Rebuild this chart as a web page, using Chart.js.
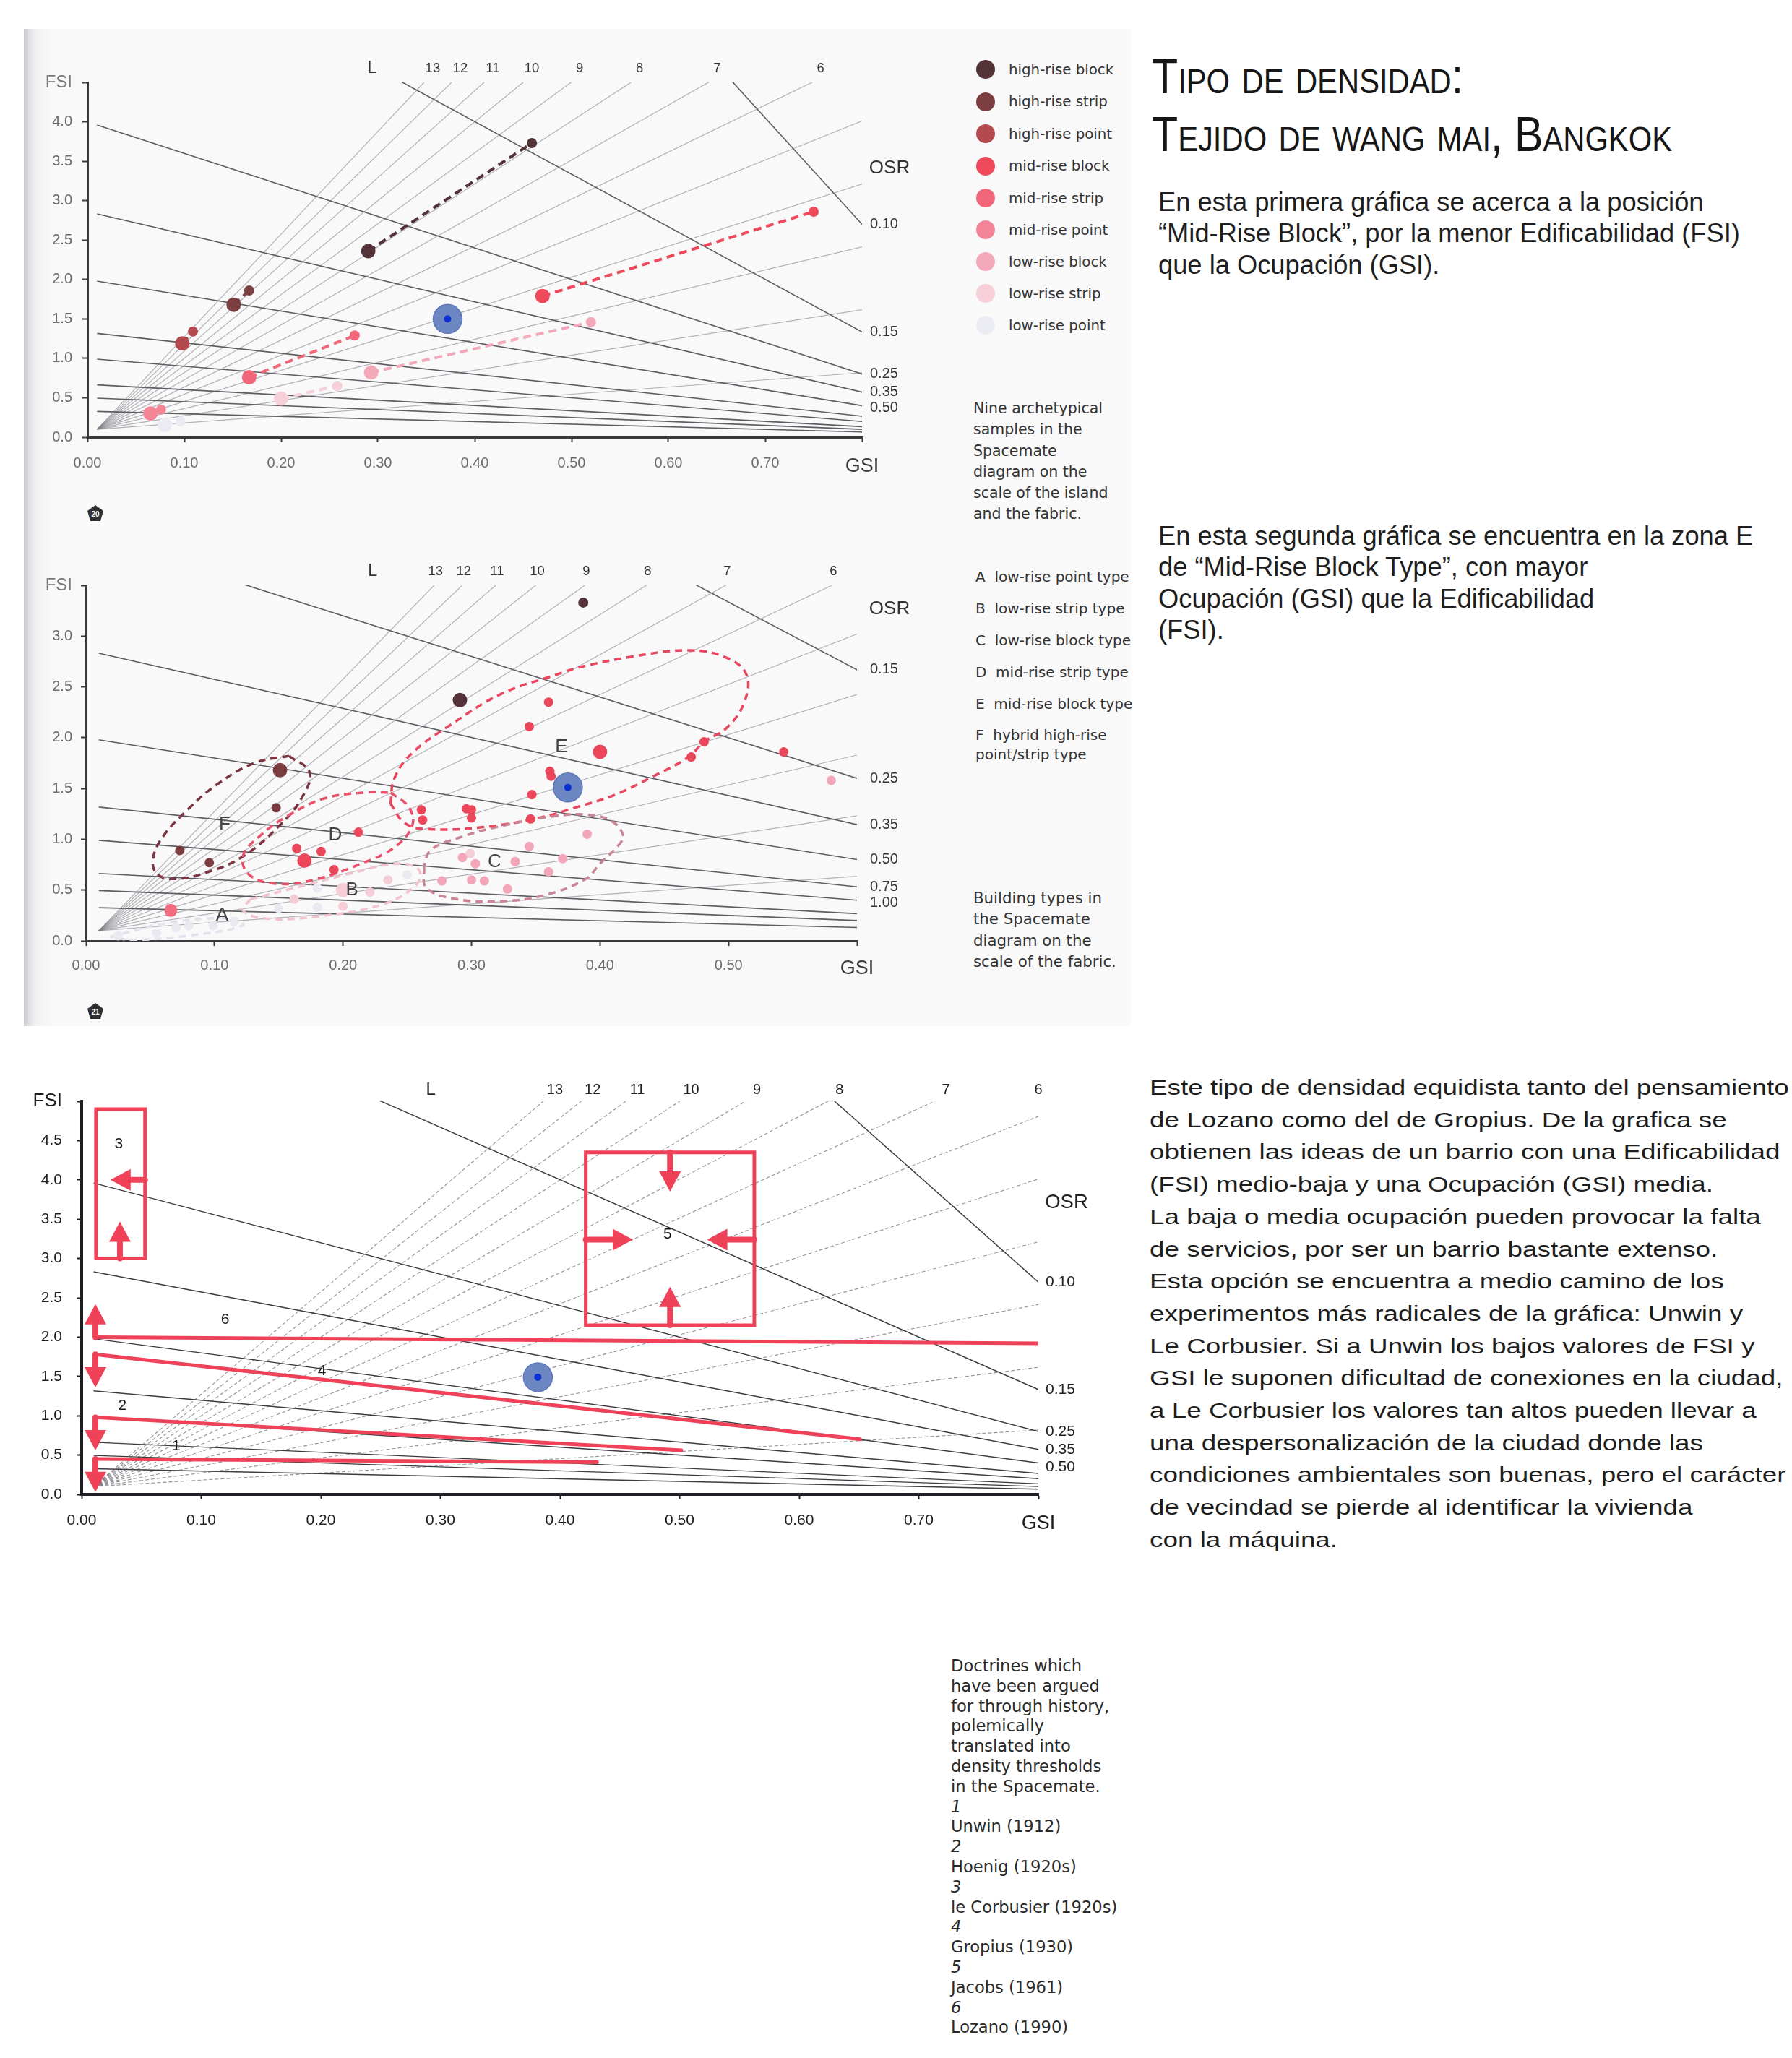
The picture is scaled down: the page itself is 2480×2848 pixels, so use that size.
<!DOCTYPE html>
<html lang="es">
<head>
<meta charset="utf-8">
<title>Tipo de densidad: Tejido de Wang Mai, Bangkok</title>
<script src="https://cdn.jsdelivr.net/npm/chart.js@4.4.1/dist/chart.umd.min.js"></script>
<style>
  html, body { margin: 0; padding: 0; background: #fff; }
  body { position: relative; width: 2480px; height: 2848px; overflow: hidden;
         font-family: 'Liberation Sans', Arial, sans-serif; color: #222; }
  .scan { position: absolute; left: 33px; top: 40px; width: 1532px; height: 1380px;
          background: linear-gradient(to right, #c6c6cc 0px, #dcdce0 6px, #f1f1f3 16px, #f9f9fa 40px); }
  canvas { position: absolute; }
  #c1 { left: 30px; top: 60px; }
  #c2 { left: 30px; top: 760px; }
  #c3 { left: 20px; top: 1470px; }
  .row { position: absolute; display: flex; align-items: center; white-space: pre;
         transform: translateY(-50%); font-family: 'DejaVu Sans', sans-serif; font-size: 19.8px; color: #333; }
  .row.types { font-size: 20px; }
  .dot { width: 26px; height: 26px; border-radius: 50%; margin-right: 19px; }
  .caption { position: absolute; left: 1347px; font-family: 'DejaVu Sans', sans-serif; font-size: 20.5px;
             line-height: 29.3px; color: #333; }
  .title { position: absolute; left: 1594px; top: 65px; font-size: 68px; line-height: 80px;
           font-variant: small-caps; color: #161616; white-space: nowrap;
           transform: scaleX(0.87); transform-origin: left top; }
  .para { position: absolute; left: 1603px; font-size: 36.3px; line-height: 43.3px; color: #1e1e1e; white-space: nowrap; }
  .para3 { position: absolute; left: 1591px; top: 1483px; font-size: 30px; line-height: 44.7px; color: #1e1e1e;
           white-space: nowrap; transform: scaleX(1.228); transform-origin: left top; }
  .doctrines { position: absolute; left: 1316px; top: 2292px; font-family: 'DejaVu Sans', sans-serif;
               font-size: 22.6px; line-height: 27.8px; color: #2a2a2a; }
  .doctrines i { font-style: italic; }
  .badge { position: absolute; }
</style>
</head>
<body>
<div class="scan"></div>
<canvas id="c1" width="1280" height="600"></canvas>
<canvas id="c2" width="1280" height="600"></canvas>
<canvas id="c3" width="1540" height="680"></canvas>

<svg class="badge" style="left:120px;top:698px" width="24" height="24" viewBox="0 0 24 24">
  <polygon points="12,1 23,9 19,23 5,23 1,9" fill="#2e2e33"/>
  <text x="12" y="17" font-size="10" font-weight="bold" fill="#fff" text-anchor="middle" font-family="Liberation Sans, Arial">20</text>
</svg>
<svg class="badge" style="left:120px;top:1387px" width="24" height="24" viewBox="0 0 24 24">
  <polygon points="12,1 23,9 19,23 5,23 1,9" fill="#2e2e33"/>
  <text x="12" y="17" font-size="10" font-weight="bold" fill="#fff" text-anchor="middle" font-family="Liberation Sans, Arial">21</text>
</svg>

<div id="legend1"></div>
<div id="legend2"></div>

<div class="caption" style="top:551px">Nine archetypical<br>samples in the<br>Spacemate<br>diagram on the<br>scale of the island<br>and the fabric.</div>
<div class="caption" style="top:1228px;font-size:21.3px">Building types in<br>the Spacemate<br>diagram on the<br>scale of the fabric.</div>

<div class="title">Tipo de densidad:<br>Tejido de wang mai, Bangkok</div>
<div class="para" style="top:258px">En esta primera gráfica se acerca a la posición<br>“Mid-Rise Block”, por la menor Edificabilidad (FSI)<br>que la Ocupación (GSI).</div>
<div class="para" style="top:720px">En esta segunda gráfica se encuentra en la zona E<br>de “Mid-Rise Block Type”, con mayor<br>Ocupación (GSI) que la Edificabilidad<br>(FSI).</div>
<div class="para3">Este tipo de densidad equidista tanto del pensamiento<br>de Lozano como del de Gropius. De la grafica se<br>obtienen las ideas de un barrio con una Edificabilidad<br>(FSI) medio-baja y una Ocupación (GSI) media.<br>La baja o media ocupación pueden provocar la falta<br>de servicios, por ser un barrio bastante extenso.<br>Esta opción se encuentra a medio camino de los<br>experimentos más radicales de la gráfica: Unwin y<br>Le Corbusier. Si a Unwin los bajos valores de FSI y<br>GSI le suponen dificultad de conexiones en la ciudad,<br>a Le Corbusier los valores tan altos pueden llevar a<br>una despersonalización de la ciudad donde las<br>condiciones ambientales son buenas, pero el carácter<br>de vecindad se pierde al identificar la vivienda<br>con la máquina.</div>
<div class="doctrines">Doctrines which<br>have been argued<br>for through history,<br>polemically<br>translated into<br>density thresholds<br>in the Spacemate.<br><i>1</i><br>Unwin (1912)<br><i>2</i><br>Hoenig (1920s)<br><i>3</i><br>le Corbusier (1920s)<br><i>4</i><br>Gropius (1930)<br><i>5</i><br>Jacobs (1961)<br><i>6</i><br>Lozano (1990)</div>

<script>
const FONT = "'Liberation Sans', Arial, sans-serif";

// ---------- Spacemate grid (shared) ----------
const floorLines = [1, 2, 3, 4, 5, 6, 7, 8, 9, 10, 11, 12, 13];
const fanGsi = 0.01, fanFsi = 0.1;          // where the L fan meets, as drawn
const osrLabels = ['0.10', '0.15', '0.25', '0.35', '0.50', '0.75', '1.00', '1.50', '2.00', '3.00'];
const osrSlopes = [13.5, 6.67, 4.0, 2.86, 2.0, 1.33, 1.0, 0.67, 0.5, 0.33]; // FSI at GSI 0 (as drawn)

// ---------- chart 1: nine archetypes ----------
const archetypes = ['high-rise block', 'high-rise strip', 'high-rise point', 'mid-rise block', 'mid-rise strip',
  'mid-rise point', 'low-rise block', 'low-rise strip', 'low-rise point'];
const archetypeColors = ['#533238', '#7b3e41', '#b44a4f', '#ef4a5c', '#f1677a', '#f38597', '#f3a9ba', '#f6cfd8', '#ebebf4'];
// [island sample, fabric sample]
const archetypeGsi = [[0.290, 0.459], [0.151, 0.167], [0.098, 0.109], [0.470, 0.750], [0.167, 0.276],
  [0.065, 0.076], [0.293, 0.520], [0.200, 0.258], [0.080, 0.096]];
const archetypeFsi = [[2.36, 3.73], [1.68, 1.86], [1.19, 1.34], [1.79, 2.86], [0.76, 1.29],
  [0.30, 0.35], [0.82, 1.46], [0.49, 0.65], [0.155, 0.20]];

// Wang Mai (blue marker) in each chart
const wangMaiGsi = [0.372, 0.375, 0.3815];
const wangMaiFsi = [1.50, 1.51, 1.49];

// ---------- chart 2: building types in the fabric ----------
const fabHighBlockGsi = [0.387, 0.291];
const fabHighBlockFsi = [3.33, 2.37];
const fabHighStripGsi = [0.151, 0.148, 0.073, 0.096];
const fabHighStripFsi = [1.68, 1.31, 0.89, 0.77];
const fabMidBlockGsi = [0.360, 0.345, 0.400, 0.361, 0.362, 0.347, 0.346, 0.261, 0.262, 0.296, 0.300, 0.300,
  0.212, 0.164, 0.170, 0.183, 0.193, 0.481, 0.471, 0.543];
const fabMidBlockFsi = [2.35, 2.11, 1.86, 1.67, 1.62, 1.44, 1.20, 1.29, 1.19, 1.30, 1.29, 1.21,
  1.07, 0.91, 0.79, 0.88, 0.70, 1.96, 1.81, 1.86];
const fabMidPointGsi = [0.066];
const fabMidPointFsi = [0.30];
const fabLowBlockGsi = [0.390, 0.345, 0.371, 0.360, 0.334, 0.328, 0.310, 0.300, 0.303, 0.293, 0.277, 0.580];
const fabLowBlockFsi = [1.05, 0.93, 0.81, 0.68, 0.78, 0.51, 0.59, 0.60, 0.76, 0.82, 0.59, 1.58];
const fabLowStripGsi = [0.235, 0.221, 0.200, 0.200, 0.162, 0.299];
const fabLowStripFsi = [0.60, 0.48, 0.50, 0.34, 0.41, 0.86];
const fabLowPointGsi = [0.250, 0.180, 0.180, 0.150, 0.080, 0.070, 0.055, 0.025, 0.115, 0.099];
const fabLowPointFsi = [0.65, 0.52, 0.33, 0.32, 0.15, 0.13, 0.08, 0.05, 0.19, 0.15];

const typeLetters = ['A', 'B', 'C', 'D', 'E', 'F'];
const typeNames = ['low-rise point type', 'low-rise strip type', 'low-rise block type', 'mid-rise strip type',
  'mid-rise block type', 'hybrid high-rise\npoint/strip type'];
const letterGsi = [0.106, 0.207, 0.318, 0.194, 0.370, 0.108];
const letterFsi = [0.25, 0.50, 0.78, 1.04, 1.91, 1.15];
// dashed zones [gsi, fsi]
const zoneA = [[0.019, 0.04], [0.065, 0.18], [0.116, 0.22], [0.122, 0.15], [0.079, 0.05], [0.036, 0.01], [0.019, 0.04]];
const zoneB = [[0.128, 0.41], [0.165, 0.53], [0.208, 0.67], [0.242, 0.76], [0.259, 0.70], [0.257, 0.55], [0.231, 0.36],
  [0.180, 0.24], [0.139, 0.22], [0.122, 0.30], [0.128, 0.41]];
const zoneC = [[0.263, 0.73], [0.265, 0.52], [0.289, 0.41], [0.323, 0.39], [0.357, 0.45], [0.389, 0.61], [0.400, 0.76],
  [0.415, 0.95], [0.418, 1.04], [0.409, 1.18], [0.391, 1.24], [0.366, 1.23], [0.323, 1.13], [0.289, 1.01],
  [0.268, 0.89], [0.263, 0.73]];
const zoneD = [[0.237, 1.46], [0.251, 1.32], [0.254, 1.14], [0.240, 0.92], [0.214, 0.76], [0.180, 0.61], [0.151, 0.56],
  [0.128, 0.64], [0.122, 0.83], [0.136, 1.04], [0.157, 1.23], [0.185, 1.40], [0.217, 1.46], [0.237, 1.46]];
const zoneE = [[0.237, 1.35], [0.240, 1.60], [0.254, 1.85], [0.283, 2.12], [0.323, 2.43], [0.366, 2.62], [0.383, 2.69],
  [0.426, 2.80], [0.469, 2.86], [0.498, 2.79], [0.514, 2.62], [0.512, 2.34], [0.498, 2.09], [0.481, 1.96],
  [0.469, 1.81], [0.440, 1.61], [0.412, 1.44], [0.383, 1.32], [0.352, 1.21], [0.309, 1.12], [0.265, 1.10],
  [0.248, 1.16], [0.237, 1.35]];
const zoneF = [[0.158, 1.82], [0.174, 1.66], [0.168, 1.41], [0.151, 1.14], [0.122, 0.83], [0.093, 0.67], [0.070, 0.61],
  [0.056, 0.65], [0.052, 0.79], [0.059, 1.01], [0.079, 1.29], [0.102, 1.54], [0.131, 1.75], [0.158, 1.82]];

// ---------- chart 3: doctrines ----------
const unwinGsi = [0.0115, 0.431], unwinFsi = [0.45, 0.41];
const hoenigGsi = [0.0115, 0.5015], hoenigFsi = [0.98, 0.56];
const gropiusGsi = [0.0115, 0.651], gropiusFsi = [1.78, 0.70];
const lozanoGsi = [0.0115, 0.803], lozanoFsi = [2.0, 1.92];
const corbusierGsi = [0.012, 0.053], corbusierFsi = [3.0, 4.9];
const jacobsGsi = [0.4215, 0.5625], jacobsFsi = [2.15, 4.35];
// [from gsi, from fsi, to gsi, to fsi]
const doctrineArrows = [
  [0.053, 4.0, 0.024, 4.0], [0.032, 3.0, 0.032, 3.47],
  [0.492, 4.35, 0.492, 3.85], [0.492, 2.15, 0.492, 2.64], [0.4215, 3.24, 0.461, 3.24], [0.5625, 3.24, 0.523, 3.24],
  [0.0115, 2.0, 0.0115, 2.42], [0.0115, 1.78, 0.0115, 1.36], [0.0115, 0.98, 0.0115, 0.56], [0.0115, 0.45, 0.0115, 0.03]
];
const doctrineNums = ['1', '2', '3', '4', '5', '6'];
const doctrineNumGsi = [0.079, 0.034, 0.031, 0.201, 0.49, 0.12];
const doctrineNumFsi = [0.61, 1.13, 4.46, 1.57, 3.31, 2.22];

// ---------- helpers ----------
Chart.defaults.font.family = FONT;
Chart.defaults.animation = false;
Chart.defaults.events = [];

const pts = (g, f) => g.map((v, i) => ({ x: v, y: f[i] }));
const pairs = arr => arr.map(p => ({ x: p[0], y: p[1] }));
const near = (a, b) => Math.abs(a - b) < 1e-6;

function gridSets(o) {
  const sets = [];
  floorLines.forEach(L => sets.push({
    data: [{ x: fanGsi, y: fanFsi }, { x: 1, y: L }], showLine: true, pointRadius: 0,
    borderColor: o.rayColor, borderWidth: o.rayWidth, borderDash: o.rayDash || [], order: 30
  }));
  osrSlopes.forEach(k => sets.push({
    data: [{ x: 0.01, y: k * 0.99 }, { x: 1, y: 0 }], showLine: true, pointRadius: 0,
    borderColor: o.osrColor, borderWidth: o.osrWidth, order: 29
  }));
  return sets;
}

function axes(o) {
  const mk = (max, step, word, bigSize, fmt, fit, pad, bigColor) => ({
    type: 'linear', min: 0, max: max,
    afterFit: fit,
    border: { display: true, color: o.axisColor, width: o.axisWidth },
    grid: { display: true, drawOnChartArea: false, drawTicks: true, tickLength: 7, tickWidth: 2, color: o.axisColor },
    ticks: {
      stepSize: step, autoSkip: false, maxRotation: 0, padding: pad,
      color: c => (c.tick && near(c.tick.value, max)) ? bigColor : o.tickColor,
      font: c => (c.tick && near(c.tick.value, max)) ? { size: bigSize } : { size: o.tickSize },
      callback: v => near(v, max) ? word : v.toFixed(fmt)
    }
  });
  return {
    x: mk(o.xMax, 0.1, 'GSI', o.gsiSize, 2, s => { s.height = o.xAxisH; }, o.xPad, o.gsiColor),
    y: mk(o.yMax, 0.5, 'FSI', o.fsiSize, 1, s => { s.width = o.yAxisW; }, o.yPad, o.fsiColor)
  };
}

function drawGridLabels(chart, o) {
  const { ctx, chartArea: a, scales: { x, y } } = chart;
  ctx.save();
  ctx.fillStyle = o.labelColor;
  ctx.textBaseline = 'middle';
  ctx.textAlign = 'center';
  ctx.font = `${o.lSize}px ${FONT}`;
  ctx.fillText('L', x.getPixelForValue(o.lGsi), a.top - o.lift);
  ctx.font = `${o.floorSize}px ${FONT}`;
  floorLines.filter(L => L >= 6).forEach(L => {
    const g = fanGsi + (o.yMax - fanFsi) * (1 - fanGsi) / (L - fanFsi);
    const px = Math.min(x.getPixelForValue(g) + o.floorShift, a.right);
    ctx.fillText(String(L), px, a.top - o.lift);
  });
  ctx.font = `${o.osrSize}px ${FONT}`;
  ctx.fillText('OSR', a.right + o.osrDx, y.getPixelForValue(o.osrFsi));
  ctx.textAlign = 'left';
  ctx.font = `${o.osrValSize}px ${FONT}`;
  let prev = -1e9;
  o.osrShown.forEach(lbl => {
    const k = osrSlopes[osrLabels.indexOf(lbl)];
    let py = y.getPixelForValue(k * (1 - o.xMax));
    py = Math.max(py, prev + o.osrGap);
    prev = py;
    ctx.fillText(lbl, a.right + o.osrValDx, py);
  });
  ctx.restore();
}

function wangMaiSets(i) {
  return [
    { data: [{ x: wangMaiGsi[i], y: wangMaiFsi[i] }], pointRadius: 5, pointBackgroundColor: '#0a30d4', pointBorderWidth: 0, order: -6 },
    { data: [{ x: wangMaiGsi[i], y: wangMaiFsi[i] }], pointRadius: 20, pointBackgroundColor: '#6d87c3', pointBorderColor: '#5d78b8', pointBorderWidth: 1.5, order: -5 }
  ];
}

function baseOptions(o, padding) {
  return {
    responsive: false, maintainAspectRatio: false,
    layout: { padding: padding, autoPadding: false },
    scales: axes(o),
    plugins: { legend: { display: false }, tooltip: { enabled: false } }
  };
}

// ---------- chart 1 ----------
const look12 = {
  axisColor: '#3a3a3e', axisWidth: 3, tickColor: '#6c6c70', tickSize: 20, gsiSize: 27, fsiSize: 24,
  gsiColor: '#3c3c40', fsiColor: '#77777c'
};
const grid1 = { xMax: 0.8, yMax: 4.5, lGsi: 0.294, lift: 19, floorShift: 12, lSize: 23, floorSize: 18.5,
  osrSize: 26, osrValSize: 20, osrDx: 38, osrFsi: 3.41, osrValDx: 11, osrGap: 22, labelColor: '#333',
  osrShown: ['0.10', '0.15', '0.25', '0.35', '0.50'] };

const sets1 = gridSets({ rayColor: 'rgba(120,120,128,0.55)', rayWidth: 1.2, osrColor: '#5c5c62', osrWidth: 1.6 });
archetypes.forEach((name, i) => sets1.push({
  label: name, data: pts(archetypeGsi[i], archetypeFsi[i]), showLine: true,
  borderColor: archetypeColors[i], borderWidth: 4, borderDash: [11, 7],
  pointBackgroundColor: archetypeColors[i], pointBorderWidth: 0, pointRadius: [10, 7], order: 0
}));
sets1.push(...wangMaiSets(0));

new Chart(document.getElementById('c1'), {
  type: 'scatter',
  data: { datasets: sets1 },
  options: baseOptions(Object.assign({ xMax: 0.8, yMax: 4.5, xAxisH: 55, yAxisW: 91, xPad: 17, yPad: 14 }, look12),
    { left: 0, top: 54, right: 117, bottom: 0 }),
  plugins: [{ id: 'labels1', afterDatasetsDraw: c => drawGridLabels(c, grid1) }]
});

// ---------- chart 2 ----------
const grid2 = { xMax: 0.6, yMax: 3.5, lGsi: 0.223, lift: 19, floorShift: 2, lSize: 23, floorSize: 18.5,
  osrSize: 26, osrValSize: 20, osrDx: 45, osrFsi: 3.27, osrValDx: 18, osrGap: 22, labelColor: '#333',
  osrShown: ['0.15', '0.25', '0.35', '0.50', '0.75', '1.00'] };

const sets2 = gridSets({ rayColor: 'rgba(120,120,128,0.55)', rayWidth: 1.2, osrColor: '#5c5c62', osrWidth: 1.6 });
const zoneStyle = (zone, color) => ({
  data: pairs(zone), showLine: true, tension: 0.4, pointRadius: 0, borderColor: color, borderWidth: 3.5,
  borderDash: [10, 7], order: 10
});
sets2.push(zoneStyle(zoneA, '#e2e2ec'), zoneStyle(zoneB, '#f2c3cc'), zoneStyle(zoneC, '#c98594'),
  zoneStyle(zoneD, '#e9506a'), zoneStyle(zoneE, '#e9475f'), zoneStyle(zoneF, '#7a3540'));
const dots = (g, f, color, r, big) => ({
  data: pts(g, f), pointBackgroundColor: color, pointBorderWidth: 0,
  pointRadius: g.map((v, i) => (big || []).includes(i) ? 10 : r), order: 0
});
sets2.push(
  dots(fabHighBlockGsi, fabHighBlockFsi, '#55313a', 7, [1]),
  dots(fabHighStripGsi, fabHighStripFsi, '#7b3d40', 6.5, [0]),
  dots(fabMidBlockGsi, fabMidBlockFsi, '#eb4659', 6.5, [2, 14]),
  dots(fabMidPointGsi, fabMidPointFsi, '#f06c7e', 9),
  dots(fabLowBlockGsi, fabLowBlockFsi, '#f2a6b7', 6.5),
  dots(fabLowStripGsi, fabLowStripFsi, '#f5cdd6', 6.5, [2]),
  dots(fabLowPointGsi, fabLowPointFsi, '#e9e9f2', 6.5)
);
sets2.push(...wangMaiSets(1));

new Chart(document.getElementById('c2'), {
  type: 'scatter',
  data: { datasets: sets2 },
  options: baseOptions(Object.assign({ xMax: 0.6, yMax: 3.5, xAxisH: 58, yAxisW: 89, xPad: 15, yPad: 12 }, look12),
    { left: 0, top: 50, right: 124, bottom: 0 }),
  plugins: [{
    id: 'labels2', afterDatasetsDraw: c => {
      drawGridLabels(c, grid2);
      const { ctx, scales: { x, y } } = c;
      ctx.save();
      ctx.fillStyle = '#444';
      ctx.font = `26px ${FONT}`;
      ctx.textAlign = 'center';
      ctx.textBaseline = 'middle';
      typeLetters.forEach((t, i) => ctx.fillText(t, x.getPixelForValue(letterGsi[i]), y.getPixelForValue(letterFsi[i])));
      ctx.restore();
    }
  }]
});

// ---------- chart 3 ----------
const grid3 = { xMax: 0.8, yMax: 5.0, lGsi: 0.292, lift: 16, floorShift: 16, lSize: 24, floorSize: 20,
  osrSize: 27.5, osrValSize: 21, osrDx: 39, osrFsi: 3.71, osrValDx: 10, osrGap: 24, labelColor: '#222',
  osrShown: ['0.10', '0.15', '0.25', '0.35', '0.50'] };
const RED = '#ef4259';

const sets3 = gridSets({ rayColor: 'rgba(110,110,118,0.75)', rayWidth: 1.1, rayDash: [5, 3], osrColor: '#3a3a40', osrWidth: 1.4 });
const redLine = (g, f) => ({ data: pts(g, f), showLine: true, pointRadius: 0, borderColor: RED, borderWidth: 5,
  borderCapStyle: 'round', order: 5 });
const redBox = (g, f) => redLine([g[0], g[1], g[1], g[0], g[0]], [f[0], f[0], f[1], f[1], f[0]]);
sets3.push(redLine(unwinGsi, unwinFsi), redLine(hoenigGsi, hoenigFsi), redLine(gropiusGsi, gropiusFsi),
  redLine(lozanoGsi, lozanoFsi), redBox(corbusierGsi, corbusierFsi), redBox(jacobsGsi, jacobsFsi));
sets3.push(...wangMaiSets(2));

function arrow(ctx, x0, y0, x1, y1) {
  const ang = Math.atan2(y1 - y0, x1 - x0), hl = 28, hw = 30;
  const bx = x1 - Math.cos(ang) * hl, by = y1 - Math.sin(ang) * hl;
  ctx.strokeStyle = RED; ctx.fillStyle = RED; ctx.lineWidth = 8; ctx.lineCap = 'round';
  ctx.beginPath(); ctx.moveTo(x0, y0); ctx.lineTo(bx, by); ctx.stroke();
  ctx.beginPath();
  ctx.moveTo(x1, y1);
  ctx.lineTo(bx + Math.sin(ang) * hw / 2, by - Math.cos(ang) * hw / 2);
  ctx.lineTo(bx - Math.sin(ang) * hw / 2, by + Math.cos(ang) * hw / 2);
  ctx.closePath(); ctx.fill();
}

new Chart(document.getElementById('c3'), {
  type: 'scatter',
  data: { datasets: sets3 },
  options: baseOptions({ xMax: 0.8, yMax: 5.0, xAxisH: 82, yAxisW: 93, xPad: 17, yPad: 20,
    axisColor: '#1e1e24', axisWidth: 4, tickColor: '#1e1e1e', tickSize: 21, gsiSize: 27, fsiSize: 26,
    gsiColor: '#1e1e1e', fsiColor: '#1e1e1e' }, { left: 0, top: 54, right: 123, bottom: 0 }),
  plugins: [{
    id: 'labels3', afterDatasetsDraw: c => {
      drawGridLabels(c, grid3);
      const { ctx, scales: { x, y } } = c;
      ctx.save();
      doctrineArrows.forEach(a => arrow(ctx, x.getPixelForValue(a[0]), y.getPixelForValue(a[1]),
        x.getPixelForValue(a[2]), y.getPixelForValue(a[3])));
      ctx.fillStyle = '#1a1a1a';
      ctx.font = `21px ${FONT}`;
      ctx.textAlign = 'center';
      ctx.textBaseline = 'middle';
      doctrineNums.forEach((t, i) => ctx.fillText(t, x.getPixelForValue(doctrineNumGsi[i]), y.getPixelForValue(doctrineNumFsi[i])));
      ctx.restore();
    }
  }]
});

// ---------- legends ----------
const legend1 = document.getElementById('legend1');
const legendY1 = [96, 140.5, 185, 229.5, 274, 318, 362, 406, 450];
archetypes.forEach((name, i) => {
  const row = document.createElement('div');
  row.className = 'row';
  row.style.left = '1351px';
  row.style.top = legendY1[i] + 'px';
  row.innerHTML = `<span class="dot" style="background:${archetypeColors[i]}"></span><span>${name}</span>`;
  legend1.appendChild(row);
});
const legend2 = document.getElementById('legend2');
const legendY2 = [798, 842, 886, 930, 974, 1031];
typeLetters.forEach((t, i) => {
  const row = document.createElement('div');
  row.className = 'row types';
  row.style.left = '1350px';
  row.style.top = legendY2[i] + 'px';
  row.style.lineHeight = '27px';
  row.textContent = t + '  ' + typeNames[i];
  legend2.appendChild(row);
});
</script>
</body>
</html>
